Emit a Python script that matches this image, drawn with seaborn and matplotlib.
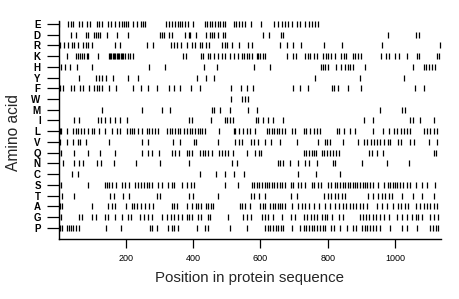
import matplotlib
matplotlib.use("Agg")
import matplotlib.pyplot as plt
import pandas as pd
import seaborn as sns

amino_acids = ["E", "D", "R", "K", "H", "Y", "F", "W", "M", "I",
               "L", "V", "Q", "N", "C", "S", "T", "A", "G", "P"]

pos_E = [2, 27, 35, 43, 60, 70, 84, 92, 113, 120, 128, 145, 155, 168, 180, 188, 194, 200, 206,
         222, 232, 244, 250, 257, 320, 327, 337, 346, 354, 361, 368, 376, 384, 399, 435, 442,
         449, 457, 465, 473, 481, 487, 495, 520, 528, 536, 544, 554, 572, 602, 641, 653, 665,
         673, 683, 693, 708, 719, 733, 745, 753, 762, 772]
pos_D = [37, 51, 80, 86, 106, 112, 116, 122, 143, 172, 205, 302, 308, 314, 329, 336, 376, 386,
         391, 408, 437, 449, 455, 462, 475, 489, 495, 606, 624, 662, 666, 978, 1063, 1071]
pos_R = [5, 15, 27, 39, 46, 58, 73, 81, 88, 98, 168, 183, 263, 281, 333, 343, 353, 363, 380,
         397, 405, 420, 427, 437, 447, 485, 493, 500, 514, 536, 564, 574, 658, 678, 698, 720,
         789, 841, 962, 1134]
pos_K = [23, 50, 56, 63, 70, 76, 83, 88, 118, 148, 152, 156, 160, 164, 168, 172, 176, 180, 184,
         188, 192, 198, 205, 212, 220, 370, 378, 423, 430, 443, 450, 463, 475, 485, 495, 510,
         520, 534, 544, 552, 560, 566, 574, 589, 594, 600, 606, 612, 678, 698, 705, 733, 741,
         748, 760, 768, 787, 795, 802, 809, 822, 839, 847, 855, 875, 882, 891, 898, 958, 974,
         981, 1000, 1013, 1035, 1065, 1071, 1124, 1131]
pos_H = [7, 19, 34, 53, 98, 267, 316, 431, 470, 580, 628, 779, 786, 792, 800, 824, 838, 850,
         859, 867, 875, 912, 1055, 1085, 1093, 1102, 1111, 1119]
pos_Y = [60, 111, 120, 130, 139, 162, 207, 235, 410, 437, 463, 762, 896, 1027]
pos_F = [3, 12, 35, 45, 62, 72, 90, 105, 113, 121, 128, 150, 170, 222, 244, 265, 293, 327, 343,
         362, 392, 420, 512, 543, 560, 578, 697, 718, 740, 812, 820, 832, 860, 898, 1060, 1085]
pos_W = [512, 544, 555, 564]
pos_M = [128, 249, 306, 331, 455, 463, 480, 510, 564, 589, 956, 1020, 1030]
pos_I = [46, 60, 118, 126, 138, 152, 167, 183, 202, 388, 395, 453, 493, 500, 508, 517, 586,
         594, 606, 622, 636, 668, 908, 936, 1045, 1055, 1075, 1115]
pos_L = [3, 8, 23, 43, 50, 58, 66, 76, 88, 98, 106, 120, 138, 159, 172, 182, 202, 212, 219,
         225, 237, 248, 261, 268, 276, 286, 296, 321, 331, 338, 346, 354, 361, 371, 380, 390,
         397, 405, 413, 420, 427, 435, 477, 520, 525, 535, 549, 559, 569, 584, 619, 626, 634,
         641, 648, 655, 663, 673, 693, 703, 728, 735, 748, 760, 768, 778, 827, 835, 849, 865,
         882, 934, 964, 981, 998, 1007, 1017, 1027, 1037, 1045, 1085, 1095, 1105, 1115, 1124]
pos_V = [3, 23, 43, 56, 63, 80, 148, 248, 266, 341, 361, 403, 409, 473, 523, 535, 545, 572,
         582, 592, 614, 632, 658, 708, 772, 792, 799, 807, 845, 891, 908, 918, 928, 938, 946,
         956, 968, 978, 986, 1008, 1018, 1045, 1057, 1100, 1125]
pos_Q = [2, 6, 46, 86, 123, 167, 248, 264, 278, 298, 336, 346, 358, 380, 387, 395, 420, 430,
         435, 443, 455, 477, 485, 495, 503, 519, 559, 584, 596, 602, 728, 735, 743, 752, 760,
         766, 782, 789, 799, 807, 815, 825, 835, 924, 931, 946, 964, 1115, 1123]
pos_N = [14, 46, 61, 71, 113, 125, 163, 229, 301, 388, 515, 529, 651, 658, 666, 688, 713, 731,
         745, 769, 815, 822, 901, 976, 1043]
pos_C = [38, 57, 419, 467, 493, 520, 550, 711, 765, 837]
pos_S = [2, 8, 88, 136, 143, 150, 158, 170, 188, 197, 209, 227, 237, 245, 252, 262, 269, 276,
         294, 306, 326, 336, 343, 366, 380, 393, 403, 493, 532, 574, 582, 589, 596, 604, 612,
         619, 626, 634, 641, 648, 658, 665, 673, 691, 698, 713, 721, 733, 752, 759, 772, 779,
         802, 809, 822, 829, 837, 845, 852, 859, 867, 875, 882, 888, 896, 904, 911, 918, 926,
         936, 951, 968, 978, 986, 994, 1000, 1007, 1015, 1023, 1035, 1045, 1063, 1080, 1095,
         1120]
pos_T = [9, 46, 152, 165, 192, 209, 291, 301, 386, 398, 473, 572, 582, 596, 612, 691, 708,
         789, 802, 809, 822, 832, 842, 852, 921, 936, 951, 961, 971, 981, 991, 1020, 1055,
         1080, 1115]
pos_A = [0, 4, 10, 100, 146, 157, 167, 199, 217, 225, 232, 245, 255, 267, 279, 336, 344, 351,
         380, 395, 407, 415, 423, 437, 445, 453, 460, 539, 546, 554, 569, 599, 606, 614, 629,
         636, 644, 652, 658, 665, 673, 693, 713, 723, 733, 745, 760, 775, 792, 807, 822, 835,
         845, 855, 865, 875, 884, 896, 906, 916, 946, 961, 976, 994, 1008, 1017, 1030, 1040,
         1063, 1073, 1085, 1095, 1105, 1115, 1125]
pos_G = [0, 7, 60, 68, 100, 110, 137, 147, 167, 187, 205, 215, 242, 254, 266, 276, 306, 321,
         334, 344, 356, 368, 380, 388, 395, 413, 423, 443, 450, 504, 549, 559, 572, 604, 612,
         622, 636, 663, 691, 703, 728, 738, 750, 760, 768, 782, 792, 799, 812, 835, 845, 896,
         906, 914, 924, 934, 944, 956, 968, 983, 1007, 1020, 1035, 1050, 1063, 1070, 1080,
         1105, 1117, 1127]
pos_P = [0, 3, 10, 23, 30, 36, 43, 50, 60, 140, 186, 271, 278, 291, 326, 336, 344, 354, 410,
         435, 443, 508, 560, 614, 622, 629, 637, 645, 653, 660, 668, 693, 718, 728, 735, 745,
         752, 760, 769, 777, 785, 792, 809, 819, 837, 857, 875, 885, 901, 911, 918, 926, 934,
         944, 956, 984, 1020, 1035, 1065, 1105, 1113, 1121, 1129]

x_ticks = [200, 400, 600, 800, 1000]
seq_length = 1136

positions = {"E": pos_E, "D": pos_D, "R": pos_R, "K": pos_K, "H": pos_H, "Y": pos_Y,
             "F": pos_F, "W": pos_W, "M": pos_M, "I": pos_I, "L": pos_L, "V": pos_V,
             "Q": pos_Q, "N": pos_N, "C": pos_C, "S": pos_S, "T": pos_T, "A": pos_A,
             "G": pos_G, "P": pos_P}

rows = []
for i, aa in enumerate(amino_acids):
    for p in positions[aa]:
        rows.append((aa, i, p))
df = pd.DataFrame(rows, columns=["aa", "row", "pos"])

sns.set_style("ticks")
plt.rcParams["font.family"] = ["Liberation Sans", "DejaVu Sans"]

fig = plt.figure(figsize=(4.6, 2.99), dpi=100)
ax = fig.add_axes([0.1278, 0.2007, 0.8302, 0.7291])

sns.scatterplot(data=df, x="pos", y="row", marker="|", s=16, linewidth=0.9,
                color="black", ax=ax, legend=False)

ax.set_xlim(0, seq_length)
ax.set_ylim(len(amino_acids) - 1 + 1.05, -0.27)
ax.set_yticks(range(len(amino_acids)))
ax.set_yticklabels(amino_acids, fontsize=7, fontweight="bold")
ax.set_xticks(x_ticks)
ax.set_xticklabels([str(t) for t in x_ticks], fontsize=6.5)
ax.tick_params(axis="y", length=9, width=0.9, pad=4, direction="out", colors="black")
ax.tick_params(axis="x", length=6.5, width=0.9, pad=4.5, direction="out", colors="black")

sns.despine(ax=ax)
for sp in ("left", "bottom"):
    ax.spines[sp].set_linewidth(1.0)
    ax.spines[sp].set_color("black")

ax.set_xlabel("Position in protein sequence", fontsize=10.8)
ax.set_ylabel("Amino acid", fontsize=11.2)
ax.xaxis.set_label_coords(0.5, -0.145)
ax.yaxis.set_label_coords(-0.1, 0.49)

fig.savefig("out.png", dpi=100)
